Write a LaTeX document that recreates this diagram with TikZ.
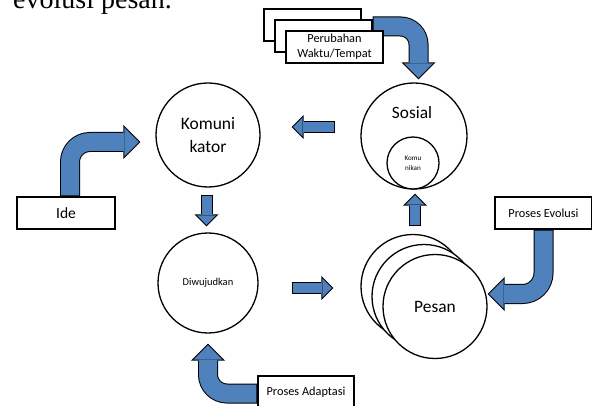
\documentclass[tikz,border=0pt]{standalone}
\usepackage{fontspec}
\setmainfont{Carlito}
\newfontfamily\titlefont{Liberation Serif}
\usetikzlibrary{arrows.meta}
\definecolor{arrowblue}{HTML}{4F81BD}

\newcommand{\bluearrow}[5][]{%
  \draw[#2rim,#1,shorten <=#3,shorten >=#4] #5;
  \draw[#2fill,#1,shorten <=#3+1pt,shorten >=#4+1.4pt] #5;}

\begin{document}
\begin{tikzpicture}[x=1pt,y=-1pt,
    bubble/.style={draw,circle,line width=1.3pt,fill=white,inner sep=0pt},
    textbox/.style={draw,rectangle,line width=1.3pt,fill=white,minimum width=97pt,minimum height=32pt,
      inner sep=0pt,align=center,font=\fontsize{12.3}{15}\selectfont},
    bigrim/.style={draw=black,line width=20pt,-{Triangle[length=17pt,width=34pt,line width=0pt]}},
    bigfill/.style={draw=arrowblue,line width=18pt,-{Triangle[length=14.6pt,width=29.2pt,line width=0pt]}},
    smallrim/.style={draw=black,line width=12pt,-{Triangle[length=12pt,width=24pt,line width=0pt]}},
    smallfill/.style={draw=arrowblue,line width=10pt,-{Triangle[length=9.6pt,width=19.2pt,line width=0pt]}}]
    \useasboundingbox (0,0) rectangle (592,406);
    \node[anchor=base west,inner sep=0pt,font=\titlefont\fontsize{28}{30}\selectfont] (title) at (13,9) {evolusi pesan.};

    \node[bubble,minimum size=104pt,align=center,font=\fontsize{17.5}{23}\selectfont] (kom) at (208,135) {Komuni\\kator};
    \node[bubble,minimum size=100pt,font=\fontsize{10.5}{12}\selectfont] (diw) at (208,283) {Diwujudkan};
    \node[bubble,minimum size=106pt] (sos) at (414,136) {};
    \node[font=\fontsize{17.3}{20}\selectfont] (sostext) at (412,113) {Sosial};
    \node[bubble,minimum size=52pt,align=center,font=\fontsize{7.1}{10}\selectfont] (kmn) at (413,163) {Komu\\nikan};
    \foreach \i/\x/\y in {1/413/286.5,2/424/296.5}
        \node[bubble,minimum size=104pt] (pes\i) at (\x,\y) {};
    \node[bubble,minimum size=104pt,font=\fontsize{17.4}{20}\selectfont] (pes3) at (435,306.5) {Pesan};

    \node[textbox,minimum width=98pt,font=\fontsize{15.5}{18}\selectfont] (ide) at (66,213) {Ide};
    \node[textbox] (evo) at (543.5,213) {Proses Evolusi};
    \node[textbox,minimum width=96pt] (ada) at (306,392) {Proses Adaptasi};
    \node[textbox] (per1) at (312.5,25) {};
    \node[textbox] (per2) at (323.5,36) {};

    \bluearrow[rounded corners=20pt]{big}{0pt}{15pt}{([xshift=4pt]ide.north) |- ([yshift=-7pt]kom.west)}
    \bluearrow[rounded corners=18pt]{big}{0pt}{3pt}{([yshift=9.5pt]per2.east) -| ([xshift=4.5pt]sos.north)}
    \bluearrow[rounded corners=21pt]{big}{0pt}{0pt}{(evo.south) |- ([yshift=12.5pt]pes3.east)}
    \bluearrow[rounded corners=19pt]{big}{0pt}{10pt}{([yshift=-1.5pt]ada.west) -| (diw.south)}

    \bluearrow{small}{25pt}{31pt}{([yshift=9pt]sos.west) -- ([yshift=9pt]sos.west -| kom.east)}
    \bluearrow{small}{7pt}{6pt}{([xshift=-1.5pt]kom.south) -- ([xshift=-1.5pt]diw.north)}
    \bluearrow{small}{33pt}{27pt}{([yshift=-5pt]diw.east) -- ([yshift=-5pt]diw.east -| pes1.west)}
    \bluearrow{small}{7.5pt}{4pt}{([xshift=2pt]pes1.north) -- ([xshift=2pt]pes1.north |- sos.south)}

    \node[textbox] (per3) at (334.5,47) {Perubahan\\Waktu/Tempat};
\end{tikzpicture}
\end{document}
